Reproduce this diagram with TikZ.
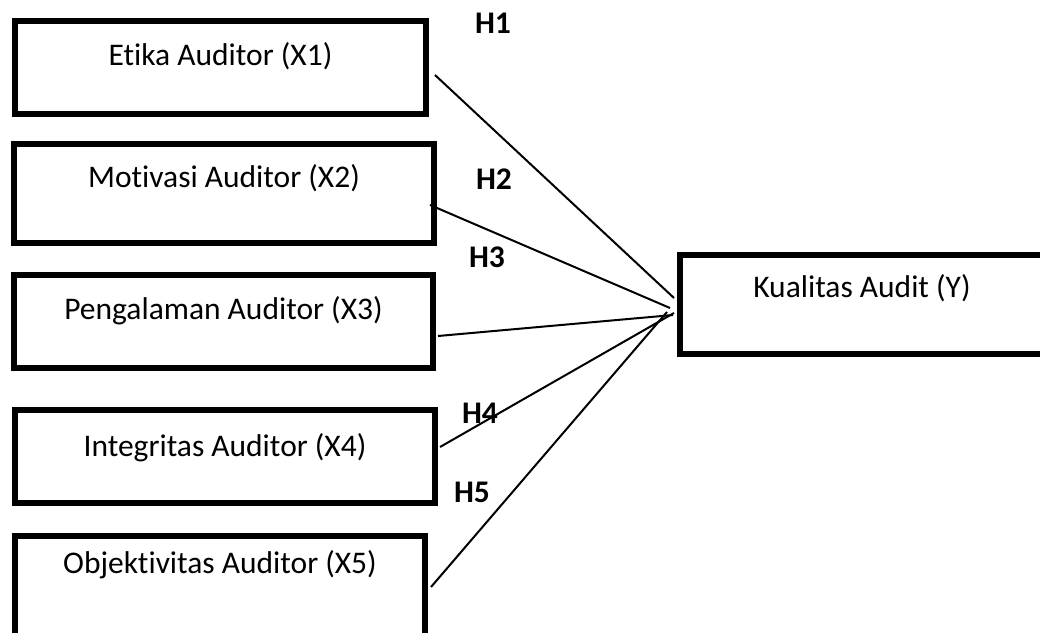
\documentclass[tikz,border=0pt]{standalone}
\usepackage{fontspec}
\setmainfont{Carlito}[Ligatures=NoCommon]
\usepackage{tikz}

\tikzset{
  varbox/.style={draw, rectangle, line width=6pt, inner sep=0pt, text height=22pt},
  link/.style={line width=2pt},
  hlabel/.style={anchor=base, font=\fontsize{31.5}{38}\selectfont\bfseries}
}

\begin{document}
\begin{tikzpicture}[x=1pt, y=-1pt, font=\fontsize{31.5}{38}\selectfont]
\useasboundingbox (0,0) rectangle (1040,632);
\node [varbox, minimum width=411pt, minimum height=93pt, text depth=27pt] (x1) at (220.5,67.5) {Etika Auditor (X1)};
\node [varbox, minimum width=420pt, minimum height=99pt, text depth=35pt] (x2) at (224,193.5) {Motivasi Auditor (X2)};
\node [varbox, minimum width=419pt, minimum height=93pt, text depth=27pt] (x3) at (223.5,321.5) {Pengalaman Auditor (X3)};
\node [varbox, minimum width=420pt, minimum height=93pt, text depth=23pt] (x4) at (225,456.5) {Integritas Auditor (X4)};
\node [varbox, minimum width=410pt, minimum height=102pt, text depth=50pt] (x5) at (220,587) {Objektivitas Auditor (X5)};
\node [varbox, minimum width=364pt, minimum height=99pt, text depth=37pt] (y) at (862,304.5) {Kualitas Audit (Y)};
\draw [link] ([xshift=6pt,yshift=-7.5pt]x1.east) -- ([xshift=-3pt,yshift=6.5pt]y.west);
\draw [link] ([xshift=-7pt,yshift=-11.5pt]x2.east) -- ([xshift=-7pt,yshift=-3.5pt]y.west);
\draw [link] ([xshift=2pt,yshift=-14.5pt]x3.east) -- ([xshift=-4pt,yshift=-10.5pt]y.west);
\draw [link] ([xshift=2pt,yshift=9.5pt]x4.east) -- ([xshift=-3pt,yshift=-8.5pt]y.west);
\draw [link] ([xshift=3pt]x5.east) -- ([xshift=-10pt,yshift=-7.5pt]y.west);
\node [hlabel] (h1) at (493,33) {H1};
\node [hlabel] (h2) at (494,189) {H2};
\node [hlabel] (h3) at (487,267) {H3};
\node [hlabel] (h4) at (480,423) {H4};
\node [hlabel] (h5) at (472,502) {H5};
\end{tikzpicture}
\end{document}
